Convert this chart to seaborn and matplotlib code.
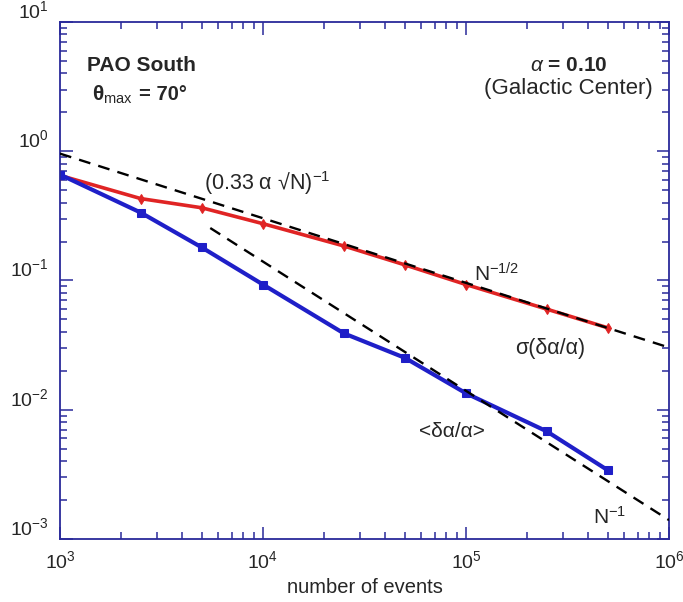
import numpy as np
import pandas as pd
import matplotlib
matplotlib.use("Agg")
import matplotlib.pyplot as plt
import seaborn as sns
from matplotlib.ticker import LogLocator, NullFormatter

# values
n_events = [1000, 2500, 5000, 10000, 25000, 50000, 100000, 250000, 500000]
sigma_rel = [0.65, 0.43, 0.365, 0.275, 0.185, 0.132, 0.093, 0.06, 0.043]
mean_rel = [0.66, 0.335, 0.18, 0.093, 0.039, 0.0252, 0.0134, 0.0068, 0.0034]

alpha = 0.10
guide_half_x = [1000, 1000000]
guide_one_x = [5500, 1000000]
guide_one_const = 1400

frame_col = "#2a2a9a"
red = "#e02424"
blue = "#1f1fc8"

sns.set_style("ticks")
plt.rcParams["font.family"] = ["Liberation Sans", "DejaVu Sans"]
plt.rcParams["mathtext.fontset"] = "custom"
plt.rcParams["mathtext.rm"] = "Liberation Sans"
plt.rcParams["mathtext.it"] = "Liberation Sans:italic"
plt.rcParams["mathtext.bf"] = "Liberation Sans:bold"

df = pd.DataFrame({"N": n_events, "sigma": sigma_rel, "mean": mean_rel})

fig = plt.figure(figsize=(6.83, 6.02), dpi=100)
ax = fig.add_axes([0.0878, 0.1047, 0.8917, 0.8588])

# dashed reference lines
gx = np.array(guide_half_x, dtype=float)
ax.plot(gx, 1.0 / (0.33 * alpha * np.sqrt(gx)), ls=(0, (5, 3.5)), color="black", lw=1.7, zorder=3)
gx1 = np.array(guide_one_x, dtype=float)
ax.plot(gx1, guide_one_const / gx1, ls=(0, (5, 3.5)), color="black", lw=1.7, zorder=3)

sns.lineplot(data=df, x="N", y="sigma", ax=ax, color=red, lw=2.6, marker="d",
             markersize=5, markeredgecolor=red, zorder=2)
sns.lineplot(data=df, x="N", y="mean", ax=ax, color=blue, lw=3.0, marker="s",
             markersize=5.5, markeredgecolor=blue, zorder=2)

ax.set_xscale("log")
ax.set_yscale("log")
ax.set_xlim(1e3, 1e6)
ax.set_ylim(1e-3, 1e1)

for s in ax.spines.values():
    s.set_color(frame_col)
    s.set_linewidth(1.3)
ax.xaxis.set_major_locator(LogLocator(base=10))
ax.yaxis.set_major_locator(LogLocator(base=10))
ax.xaxis.set_minor_locator(LogLocator(base=10, subs=np.arange(2, 10)))
ax.yaxis.set_minor_locator(LogLocator(base=10, subs=np.arange(2, 10)))
ax.xaxis.set_minor_formatter(NullFormatter())
ax.yaxis.set_minor_formatter(NullFormatter())
ax.tick_params(which="both", direction="in", top=True, right=True, color=frame_col, width=1.1)
ax.tick_params(which="major", length=9, labelsize=14, pad=8)
ax.tick_params(which="minor", length=5)
for lab in ax.get_yticklabels():
    lab.set_verticalalignment("bottom")

ax.set_xlabel("number of events", fontsize=14.5, labelpad=4)
ax.set_ylabel("")

ax.text(0.045, 0.905, "PAO South", transform=ax.transAxes, fontsize=15, fontweight="bold")
ax.text(0.053, 0.848, r"$\mathbf{\theta}_{\mathrm{max}}$", transform=ax.transAxes, fontsize=15)
ax.text(0.13, 0.85, "= 70°", transform=ax.transAxes, fontsize=14.5, fontweight="bold")
ax.text(0.835, 0.905, r"$\alpha$ = 0.10", transform=ax.transAxes, fontsize=15,
        fontweight="bold", ha="center")
ax.text(0.835, 0.86, "(Galactic Center)", transform=ax.transAxes, fontsize=16, ha="center")

ax.text(5.1e3, 0.5, "(0.33 α √N)$^{-1}$", fontsize=15.5)
ax.text(1.1e5, 0.098, r"N$^{-1/2}$", fontsize=15)
ax.text(1.75e5, 0.027, "σ(δα/α)", fontsize=15.5)
ax.text(5.9e4, 0.0062, "<δα/α>", fontsize=15)
ax.text(4.2e5, 0.0013, r"N$^{-1}$", fontsize=15)

fig.savefig("out.png", dpi=100)
